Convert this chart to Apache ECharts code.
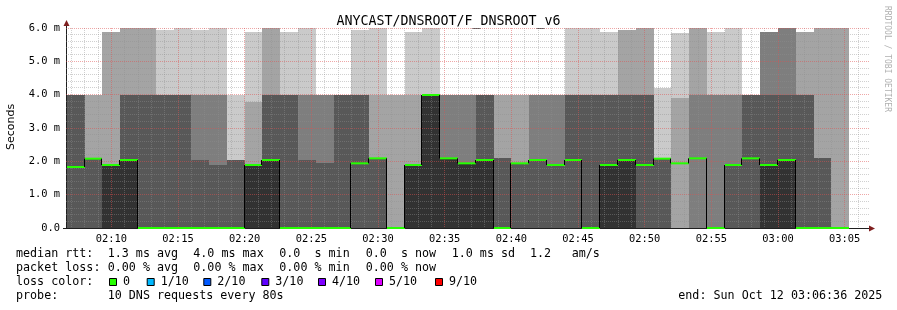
<!DOCTYPE html>
<html><head><meta charset="utf-8">
<script src="https://cdn.jsdelivr.net/npm/echarts@6/dist/echarts.min.js"></script>
<style>html,body{margin:0;padding:0;background:#fff}#c{width:897px;height:310px}</style>
</head><body><div id="c"></div>
<script>
// ---- data (seconds after 02:00:00, values in ms) ----
const axisStart = 396;   // 02:06:36
const axisEnd = 3996;    // 03:06:36
const firstBinStart = 400; // 02:06:40
const binSeconds = 80;
const ping1 = [0,0,0,0,0,0,0,0,0,0, 0,0,0,0,0,0,0,0,0,0, 0,0,0,0,0,0,0,0,0,0, 0,0,0,0,0,0,0,0,0,0, 0,0,0,0];
const ping2 = [0,0,0,0,0,0,0,0,0,0, 0,0,0,0,0,0,0,0,0,0, 0,0,0,0,0,0,0,0,0,0, 0,0,0,0,0,0,0,0,0,0, 0,0,0,0];
const ping3 = [0,0,0,0,0,0,0,0,0,0, 0,0,0,0,0,0,0,0,0,0, 0,0,0,0,0,0,0,0,0,0, 0,0,0,0,1.94,0,0,0,0,0, 0,0,0,0];
const ping4 = [0,0,0,0,0,0,0,0,0,0, 0,0,0,0,0,0,0,0,0,0, 0,0,0,0,0,0,0,0,0,0, 0,0,0,0,1.94,2.09,0,0,0,0, 0,0,0,0];
const ping5 = [1.83,2.08,0,0,0,0,0,0,0,0, 0,0,0,0,0,0,1.94,2.09,0,0, 0,0,0,0,0,1.94,2.04,1.89,2.04,0, 0,0,1.89,2.08,1.94,2.09,0,1.89,2.09,0, 0,0,0,0];
const ping6 = [1.83,2.08,1.89,2.04,0,0,0,0,0,0, 1.89,2.04,0,0,0,0,1.94,2.09,0,1.89, 4,2.09,1.94,2.04,0,1.94,2.04,1.89,2.04,0, 1.89,2.04,1.89,2.08,1.94,2.09,0,1.89,2.09,1.89, 2.04,0,0,0];
const ping7 = [4,2.08,1.89,4,4,4,4,2.04,1.9,2.04, 1.89,4,4,2.04,1.96,4,4,2.09,0,1.89, 4,2.09,1.94,4,2.1,1.94,2.04,1.89,4,4, 4,4,4,2.08,1.94,2.09,0,1.89,4,4, 4,4,2.1,0];
const ping8 = [4,2.08,1.89,4,4,4,4,4,4,2.04, 1.89,4,4,4,4,4,4,2.09,0,1.89, 4,4,4,4,2.1,1.94,4,4,4,4, 4,4,4,2.08,1.94,4,4,4,4,5.88, 6,4,2.1,0];
const ping9 = [4,4,5.88,6,6,4,4,4,4,2.04, 3.78,6,4,4,4,4,4,4,4,4, 4,4,4,4,4,4,4,4,4,4, 4,5.94,6,2.08,3.9,6,4,4,4,5.88, 6,5.88,6,6];
const ping10 = [4,4,5.88,6,6,5.94,6,5.94,6,4, 5.88,6,5.88,6,4,4,5.94,6,4,5.88, 6,4,4,4,4,4,4,4,6,6, 5.88,5.94,6,4.2,5.85,6,5.88,6,4,5.88, 6,5.88,6,6];
const median = [1.83,2.08,1.89,2.04,0,0,0,0,0,0, 1.89,2.04,0,0,0,0,1.94,2.09,0,1.89, 3.99,2.09,1.94,2.04,0,1.94,2.04,1.89,2.04,0, 1.89,2.04,1.89,2.08,1.94,2.09,0,1.89,2.09,1.89, 2.04,0,0,0];
const timeLabels = ['02:10','02:15','02:20','02:25','02:30','02:35','02:40','02:45','02:50','02:55','03:00','03:05'];
const yTickLabels = ['0.0','1.0 m','2.0 m','3.0 m','4.0 m','5.0 m','6.0 m'];
const lossLabels = ['0','1/10','2/10','3/10','4/10','5/10','9/10'];
const lossColors = ['#26ff00','#00b8ff','#0059ff','#5e00ff','#7e00ff','#dd00ff','#ff0000'];

// ---- derived ----
const pings = [ping1,ping2,ping3,ping4,ping5,ping6,ping7,ping8,ping9,ping10];
const shades = ['#cacaca','#a4a4a4','#7e7e7e','#585858','#323232'];
const labelSeconds = timeLabels.map(s => { const [h,m] = s.split(':').map(Number); return (h-2)*3600 + m*60; });
const smokeData = median.map((_, k) => {
  const t0 = firstBinStart + k*binSeconds;
  return [t0, t0 + binSeconds].concat(pings.map(p => p[k]));
});
const medianData = median.map((m, k) => {
  const t0 = firstBinStart + k*binSeconds;
  return [t0, t0 + binSeconds, m, k > 0 ? median[k-1] : m];
});
const vGrid = []; for (let t = 420; t < axisEnd; t += 60) vGrid.push([t]);
const hGrid = []; for (let i = 1; i <= 30; i++) hGrid.push([i/5]);

const MONO = "'DejaVu Sans Mono', monospace";
const LEG = 11.7;
const GRID_MINOR = 'rgba(143,143,143,0.42)';
const GRID_MAJOR = 'rgba(222,79,79,0.5)';
const chart = echarts.init(document.getElementById('c'), null, {renderer:'canvas'});

const legendText = [
  [16,254,'median rtt:'],[107.7,254,'1.3 ms avg'],[193.3,254,'4.0 ms max'],[279.3,254,'0.0  s min'],[365.7,254,'0.0  s now'],[451.7,254,'1.0 ms sd'],[530,254,'1.2'],[571.7,254,'am/s'],
  [16,268,'packet loss:'],[107.7,268,'0.00 % avg'],[193.3,268,'0.00 % max'],[279.3,268,'0.00 % min'],[365.7,268,'0.00 % now'],
  [16,282,'loss color:'],
  [16,296,'probe:'],[107.7,296,'10 DNS requests every 80s'],[678.3,296,'end: Sun Oct 12 03:06:36 2025']
];
const boxX = [109,146.7,203.3,261.3,318,375,435];
const graphics = [];
legendText.forEach(([x,y,t]) => graphics.push({type:'text', x, y, style:{text:t, fontFamily:MONO, fontSize:LEG, fill:'#000', align:'left', verticalAlign:'middle'}}));
lossLabels.forEach((l,i) => {
  graphics.push({type:'rect', shape:{x:boxX[i]+0.5, y:278.5, width:7, height:7}, style:{fill:lossColors[i], stroke:'#000', lineWidth:1}});
  graphics.push({type:'text', x:boxX[i]+14, y:282, style:{text:l, fontFamily:MONO, fontSize:LEG, fill:'#000', align:'left', verticalAlign:'middle'}});
});
graphics.push({type:'text', x:11, y:127, rotation:Math.PI/2, style:{text:'Seconds', fontFamily:"'DejaVu Sans', sans-serif", fontSize:11, fill:'#000', align:'center', verticalAlign:'middle'}});
graphics.push({type:'text', x:887, y:59, rotation:-Math.PI/2, style:{text:'RRDTOOL / TOBI OETIKER', fontFamily:MONO, fontSize:8, fill:'#b0b0b0', align:'center', verticalAlign:'middle'}});
graphics.push({type:'line', shape:{x1:66.5,y1:22,x2:66.5,y2:28}, style:{stroke:'#1f1f1f', lineWidth:1}});
graphics.push({type:'line', shape:{x1:63,y1:228.5,x2:869,y2:228.5}, style:{stroke:'#1f1f1f', lineWidth:1}});
graphics.push({type:'polygon', shape:{points:[[66.5,20],[63.5,26],[69.5,26]]}, style:{fill:'#7f1f1f'}});
graphics.push({type:'polygon', shape:{points:[[875,228.5],[869,225.5],[869,231.5]]}, style:{fill:'#7f1f1f'}});

const option = {
  backgroundColor:'#ffffff',
  animation:false,
  title:{text:'ANYCAST/DNSROOT/F_DNSROOT_v6', left:'center', top:10, textStyle:{fontFamily:MONO, fontSize:13.3, fontWeight:'normal', color:'#000'}},
  grid:{left:66, top:28, width:800, height:200, containLabel:false},
  xAxis:{type:'value', min:axisStart, max:axisEnd,
    axisLine:{show:true, lineStyle:{color:'#1f1f1f', width:1}},
    axisTick:{show:false}, splitLine:{show:false},
    axisLabel:{customValues:labelSeconds, formatter:v => timeLabels[labelSeconds.indexOf(v)] || '', fontFamily:MONO, fontSize:10.4, color:'#000', margin:6}},
  yAxis:{type:'value', min:0, max:6, interval:1,
    axisLine:{show:true, lineStyle:{color:'#1f1f1f', width:1}},
    axisTick:{show:false}, splitLine:{show:false},
    axisLabel:{formatter:v => yTickLabels[Math.round(v)], fontFamily:MONO, fontSize:10.4, color:'#000', margin:6}},
  graphic:{elements:graphics},
  series:[
    {type:'custom', name:'smoke', z:2, silent:true, clip:true,
      encode:{x:[0,1], y:[2,3,4,5,6,7,8,9,10,11]},
      data:smokeData,
      renderItem:(params, api) => {
        const t0 = api.value(0), t1 = api.value(1);
        const children = [];
        for (let i = 0; i < 9; i++) {
          const lo = api.value(2+i), hi = api.value(3+i);
          if (hi > lo) {
            const a = api.coord([t0, hi]), b = api.coord([t1, lo]);
            const x0 = Math.round(a[0]), x1 = Math.round(b[0]);
            const y0 = Math.round(a[1]), y1 = Math.round(b[1]);
            children.push({type:'rect', shape:{x:x0, y:y0, width:x1-x0, height:y1-y0}, style:{fill:shades[Math.min(i, 8-i)]}});
          }
        }
        return {type:'group', children};
      }},
    {type:'custom', name:'vgrid', z:3, silent:true,
      encode:{x:0}, data:vGrid,
      renderItem:(params, api) => {
        const t = api.value(0);
        const a = api.coord([t, 6]), b = api.coord([t, 0]);
        const x = Math.floor(a[0]) + 0.5;
        const major = t % 300 === 0;
        return {type:'line', shape:{x1:x, y1:a[1], x2:x, y2:b[1]}, style:{stroke: major ? GRID_MAJOR : GRID_MINOR, lineWidth:1, lineDash:[1,1]}};
      }},
    {type:'custom', name:'hgrid', z:3, silent:true,
      encode:{y:0}, data:hGrid,
      renderItem:(params, api) => {
        const v = api.value(0);
        const a = api.coord([axisStart, v]), b = api.coord([axisEnd, v]);
        const y = Math.floor(a[1]) + 0.5;
        const major = Math.abs(v - Math.round(v)) < 1e-6;
        return {type:'line', shape:{x1:a[0], y1:y, x2:b[0]+3, y2:y}, style:{stroke: major ? GRID_MAJOR : GRID_MINOR, lineWidth:1, lineDash:[1,1]}};
      }},
    {type:'custom', name:'median', z:4, silent:true,
      encode:{x:[0,1], y:2}, data:medianData,
      renderItem:(params, api) => {
        const t0 = api.value(0), t1 = api.value(1), m = api.value(2), prev = api.value(3);
        const a = api.coord([t0, m]), b = api.coord([t1, m]), p = api.coord([t0, prev]);
        const x0 = Math.round(a[0]), x1 = Math.round(b[0]);
        const children = [];
        if (params.dataIndex > 0 && prev !== m) {
          children.push({type:'line', shape:{x1:x0-0.5, y1:p[1], x2:x0-0.5, y2:a[1]}, style:{stroke:'#000', lineWidth:1}});
        }
        children.push({type:'rect', shape:{x:x0, y:a[1]-1, width:x1-x0, height:2}, style:{fill:'#26ff00'}});
        return {type:'group', children};
      }}
  ]
};
chart.setOption(option);
</script></body></html>
